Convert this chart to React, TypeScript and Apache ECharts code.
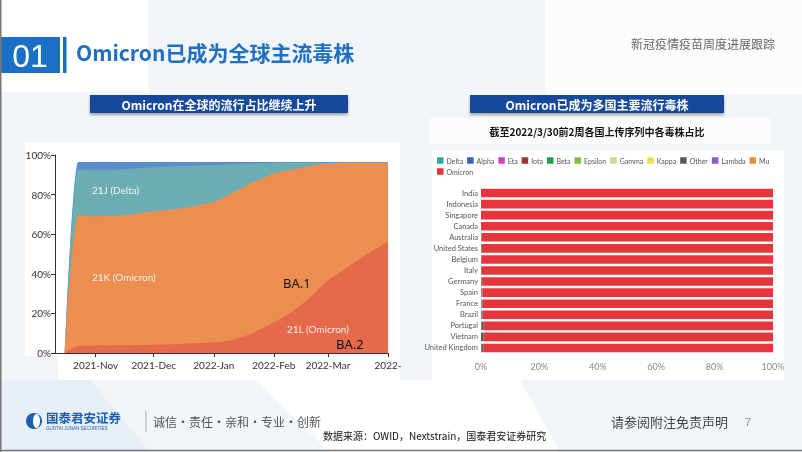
import React, { useEffect, useRef } from "react";
import * as echarts from "echarts";

// ---------- Left chart data (share of sequences, %) ----------
const areaDates = [
  "2021-10-16", "2021-10-23", "2021-11-01", "2021-11-15", "2021-12-01", "2021-12-15",
  "2022-01-01", "2022-01-10", "2022-01-20", "2022-02-01", "2022-02-10", "2022-02-20",
  "2022-03-01", "2022-03-10", "2022-03-20", "2022-04-01",
];
const ba2Share = [0, 3.5, 3.7, 3.9, 4.2, 4.6, 5.4, 6.6, 9.6, 15.5, 20.6, 28.2, 36.7, 42.6, 49.3, 56.1];
const ba1Share = [0, 66.0, 65.4, 65.7, 67.4, 68.4, 71.0, 74.0, 76.0, 75.2, 71.8, 66.2, 59.1, 53.5, 46.8, 40.0];
const deltaShare = [0, 23.2, 23.3, 23.1, 22.2, 21.4, 18.5, 14.7, 10.0, 5.2, 3.7, 1.8, 0.4, 0.1, 0.1, 0.1];
const otherShare = [0, 3.8, 4.1, 3.8, 2.7, 2.1, 1.6, 1.2, 0.9, 0.6, 0.4, 0.3, 0.3, 0.3, 0.3, 0.3];

const monthTicks = ["2021-11-01", "2021-12-01", "2022-01-01", "2022-02-01", "2022-03-01", "2022-04-01"];
const monthLabels = ["2021-Nov", "2021-Dec", "2022-Jan", "2022-Feb", "2022-Mar", "2022-"];
const axisStart = "2021-10-11";
const axisEnd = "2022-04-01";

// ---------- Right chart data ----------
const countries = [
  "India", "Indonesia", "Singapore", "Canada", "Australia", "United States", "Belgium",
  "Italy", "Germany", "Spain", "France", "Brazil", "Portugal", "Vietnam", "United Kingdom",
];
const variants = ["Delta", "Alpha", "Eta", "Iota", "Beta", "Epsilon", "Gamma", "Kappa", "Other", "Lambda", "Mu", "Omicron"];
const variantColors = [
  "#2fa9a9", "#3a5fbf", "#d23fbf", "#a2362b", "#1f9e48", "#7cc242",
  "#c6d98c", "#f2dc43", "#5a5a5a", "#8a5cd1", "#f08a2e", "#e5363d",
];
const deltaByCountry = [0, 0, 0, 0, 0.1, 0.1, 0, 0, 0.1, 0.2, 0.2, 0.1, 0.1, 0, 0.1];
const otherByCountry = [0, 0, 0, 0, 0.2, 0.2, 0.1, 0.2, 0.3, 0.3, 0.3, 0.4, 0.8, 0.9, 0.8];
const omicronByCountry = [100, 100, 100, 100, 99.7, 99.7, 99.9, 99.8, 99.6, 99.5, 99.5, 99.5, 99.1, 99.1, 99.1];
const zeroByCountry = [0, 0, 0, 0, 0, 0, 0, 0, 0, 0, 0, 0, 0, 0, 0];

const ts = (d: string) => Date.parse(d + "T00:00:00Z");

export default function App() {
  const ref = useRef<HTMLDivElement>(null);

  useEffect(() => {
    if (!ref.current) return;
    const chart = echarts.init(ref.current, null, { renderer: "svg" });

    const tickTs = monthTicks.map(ts);

    // stack layers (bottom -> top); each drawn as an area from 0 to its cumulative top,
    // lower layers painted over the upper ones
    const layers = [
      { name: "21L (Omicron)", vals: ba2Share, color: "#e5694b" },
      { name: "21K (Omicron)", vals: ba1Share, color: "#eb8e50" },
      { name: "21J (Delta)", vals: deltaShare, color: "#6aadb2" },
      { name: "Other lineages", vals: otherShare, color: "#5b8dcc" },
    ];
    const running = areaDates.map(() => 0);
    const cumulative = layers.map((l) => l.vals.map((v, i) => (running[i] += v)));
    const areaSeries = layers.map((l, k) => ({
      name: l.name,
      type: "line",
      xAxisIndex: 0,
      yAxisIndex: 0,
      symbol: "none",
      smooth: 0.2,
      lineStyle: { width: 0 },
      areaStyle: { color: l.color, opacity: 1 },
      itemStyle: { color: l.color },
      data: areaDates.map((d, i) => [ts(d), Math.round(cumulative[k][i] * 100) / 100]),
      z: 10 - k,
    }));

    const seriesByVariant: Record<string, number[]> = {
      Delta: deltaByCountry,
      Other: otherByCountry,
      Omicron: omicronByCountry,
    };
    const barSeries = variants.map((v, i) => ({
      name: v,
      type: "bar",
      xAxisIndex: 1,
      yAxisIndex: 1,
      stack: "bar",
      barWidth: 8.6,
      itemStyle: { color: variantColors[i] },
      data: seriesByVariant[v] || zeroByCountry,
      z: 3,
    }));

    const cjk = '"Noto Sans CJK SC", "Noto Sans", sans-serif';
    const narrow = 'Lato, "Noto Sans", sans-serif';

    const option: any = {
      animation: false,
      textStyle: { fontFamily: narrow },
      grid: [
        { left: 55, right: 414, top: 155, bottom: 99 },
        { left: 481, right: 29, top: 187.5, bottom: 98.5 },
      ],
      legend: {
        data: variants,
        left: 437,
        top: 157,
        width: 340,
        itemWidth: 6.5,
        itemHeight: 6.5,
        itemGap: 4,
        padding: 0,
        icon: "rect",
        selectedMode: false,
        textStyle: { fontSize: 7, color: "#555", fontFamily: narrow, padding: [0, 0, 0, -2] },
      },
      xAxis: [
        {
          type: "value",
          gridIndex: 0,
          min: ts(axisStart),
          max: ts(axisEnd),
          axisLine: { show: true, lineStyle: { color: "#333", width: 1 } },
          axisTick: { show: true, length: 4, customValues: tickTs, lineStyle: { color: "#333" } },
          axisLabel: {
            customValues: tickTs,
            color: "#333",
            fontSize: 10,
            margin: 7,
            fontFamily: narrow,
            formatter: (v: number) => {
              const i = tickTs.indexOf(v);
              return i >= 0 ? monthLabels[i] : "";
            },
          },
          splitLine: { show: false },
        },
        {
          type: "value",
          gridIndex: 1,
          min: 0,
          max: 100,
          interval: 20,
          axisLine: { show: false },
          axisTick: { show: false },
          splitLine: { show: false },
          axisLabel: { formatter: "{value}%", color: "#888", fontSize: 9, margin: 8, fontFamily: narrow },
        },
      ],
      yAxis: [
        {
          type: "value",
          gridIndex: 0,
          min: 0,
          max: 100,
          interval: 20,
          axisLine: { show: true, lineStyle: { color: "#333", width: 1 } },
          axisTick: { show: true, length: 4, lineStyle: { color: "#333" } },
          axisLabel: { formatter: "{value}%", color: "#333", fontSize: 10, margin: 4, fontFamily: narrow },
          splitLine: { show: false },
        },
        {
          type: "category",
          gridIndex: 1,
          inverse: true,
          data: countries,
          axisLine: { show: false },
          axisTick: { show: false },
          axisLabel: { color: "#555", fontSize: 7.5, margin: 3, interval: 0, fontFamily: narrow },
        },
      ],
      series: [...areaSeries, ...barSeries],
      graphic: [
        // background
        { type: "rect", z: -20, silent: true, shape: { x: 0, y: 0, width: 802, height: 452 }, style: { fill: "#f1f5fa" } },
        { type: "rect", z: -19, silent: true, shape: { x: 0, y: 0, width: 148, height: 92 }, style: { fill: "#ffffff" } },
        { type: "polygon", z: -19, silent: true, shape: { points: [[545, 0], [802, 0], [802, 95], [545, 95]] }, style: { fill: "#fbfcfe" } },
        { type: "polygon", z: -19, silent: true, shape: { points: [[255, 380], [520, 380], [560, 452], [330, 452]] }, style: { fill: "#ffffff" } },
        { type: "polygon", z: -19, silent: true, shape: { points: [[0, 380], [90, 380], [150, 452], [0, 452]] }, style: { fill: "#e9eff7" } },
        // chart panels
        { type: "rect", z: -18, silent: true, shape: { x: 25, y: 142, width: 375, height: 214 }, style: { fill: "#ffffff" } },
        { type: "rect", z: -18, silent: true, shape: { x: 58, y: 354, width: 342, height: 26 }, style: { fill: "#ffffff" } },
        { type: "rect", z: -18, silent: true, shape: { x: 432, y: 150, width: 352, height: 230 }, style: { fill: "#ffffff" } },
        { type: "rect", z: -18, silent: true, shape: { x: 430, y: 118, width: 340, height: 26 }, style: { fill: "#fafcfe" } },
        // frame
        { type: "line", z: 50, silent: true, shape: { x1: 0.75, y1: 0, x2: 0.75, y2: 452 }, style: { stroke: "#777", lineWidth: 1.5 } },
        { type: "line", z: 50, silent: true, shape: { x1: 0, y1: 450.5, x2: 802, y2: 450.5 }, style: { stroke: "#777", lineWidth: 1.5 } },
        // header
        { type: "rect", z: 10, shape: { x: 0, y: 37, width: 60, height: 36 }, style: { fill: "#1a70c4" } },
        { type: "text", z: 11, x: 30, y: 56, style: { text: "01", fill: "#ffffff", font: '32px "Liberation Sans", Arial, sans-serif', align: "center", verticalAlign: "middle" } },
        { type: "rect", z: 10, shape: { x: 63, y: 37, width: 3.5, height: 36 }, style: { fill: "#1a70c4" } },
        { type: "text", z: 11, x: 76, y: 52, style: { text: "Omicron已成为全球主流毒株", fill: "#1f6fc2", font: `bold 21px ${cjk}`, verticalAlign: "middle" } },
        { type: "text", z: 11, x: 775, y: 43, style: { text: "新冠疫情疫苗周度进展跟踪", fill: "#666", font: `12px ${cjk}`, align: "right", verticalAlign: "middle" } },
        // banners
        { type: "rect", z: 10, shape: { x: 90, y: 95, width: 258, height: 18 }, style: { fill: "#15489c", shadowBlur: 3, shadowOffsetY: 2, shadowColor: "rgba(0,0,0,0.35)" } },
        { type: "text", z: 11, x: 219, y: 104, style: { text: "Omicron在全球的流行占比继续上升", fill: "#fff", font: `bold 12px ${cjk}`, align: "center", verticalAlign: "middle" } },
        { type: "rect", z: 10, shape: { x: 470, y: 95, width: 254, height: 18 }, style: { fill: "#15489c", shadowBlur: 3, shadowOffsetY: 2, shadowColor: "rgba(0,0,0,0.35)" } },
        { type: "text", z: 11, x: 597, y: 104, style: { text: "Omicron已成为多国主要流行毒株", fill: "#fff", font: `bold 12px ${cjk}`, align: "center", verticalAlign: "middle" } },
        { type: "text", z: 11, x: 597, y: 131, style: { text: "截至2022/3/30前2周各国上传序列中各毒株占比", fill: "#111", font: `bold 10px ${cjk}`, align: "center", verticalAlign: "middle" } },
        // left chart annotations
        { type: "text", z: 20, x: 92, y: 190, style: { text: "21J (Delta)", fill: "#f4f4f4", font: `10px ${narrow}`, verticalAlign: "middle" } },
        { type: "text", z: 20, x: 92, y: 277, style: { text: "21K (Omicron)", fill: "#f8f0ea", font: `10px ${narrow}`, verticalAlign: "middle" } },
        { type: "text", z: 20, x: 283, y: 283, style: { text: "BA.1", fill: "#111", font: `13px "Noto Sans", sans-serif`, verticalAlign: "middle" } },
        { type: "text", z: 20, x: 287, y: 329, style: { text: "21L (Omicron)", fill: "#f8f0ea", font: `10px ${narrow}`, verticalAlign: "middle" } },
        { type: "text", z: 20, x: 336, y: 344, style: { text: "BA.2", fill: "#111", font: `13px "Noto Sans", sans-serif`, verticalAlign: "middle" } },
        // footer
        { type: "circle", z: 10, shape: { cx: 34, cy: 421, r: 8 }, style: { fill: "#1c5fae" } },
        { type: "ellipse", z: 11, shape: { cx: 36.5, cy: 421, rx: 3.5, ry: 7 }, style: { fill: "#ffffff" } },
        { type: "text", z: 11, x: 46, y: 417, style: { text: "国泰君安证券", fill: "#1c5fae", font: `bold 12.5px ${cjk}`, verticalAlign: "middle" } },
        { type: "text", z: 11, x: 46, y: 428.5, style: { text: "GUOTAI JUNAN SECURITIES", fill: "#1c5fae", font: `4.5px "Liberation Sans", sans-serif`, verticalAlign: "middle" } },
        { type: "line", z: 11, shape: { x1: 146, y1: 411, x2: 146, y2: 432 }, style: { stroke: "#999", lineWidth: 0.8 } },
        { type: "text", z: 11, x: 153, y: 421, style: { text: "诚信·责任·亲和·专业·创新", fill: "#555", font: `12px ${cjk}`, verticalAlign: "middle" } },
        { type: "text", z: 11, x: 323, y: 435, style: { text: "数据来源：OWID，Nextstrain，国泰君安证券研究", fill: "#111", font: `10px ${cjk}`, verticalAlign: "middle" } },
        { type: "text", z: 11, x: 611, y: 421, style: { text: "请参阅附注免责声明", fill: "#444", font: `13px ${cjk}`, verticalAlign: "middle" } },
        { type: "text", z: 11, x: 748, y: 422, style: { text: "7", fill: "#888", font: `11px "Liberation Sans", sans-serif`, align: "center", verticalAlign: "middle" } },
      ],
    };

    chart.setOption(option);
    return () => chart.dispose();
  }, []);

  return <div ref={ref} style={{ position: "fixed", left: 0, top: 0, width: 802, height: 452 }} />;
}
